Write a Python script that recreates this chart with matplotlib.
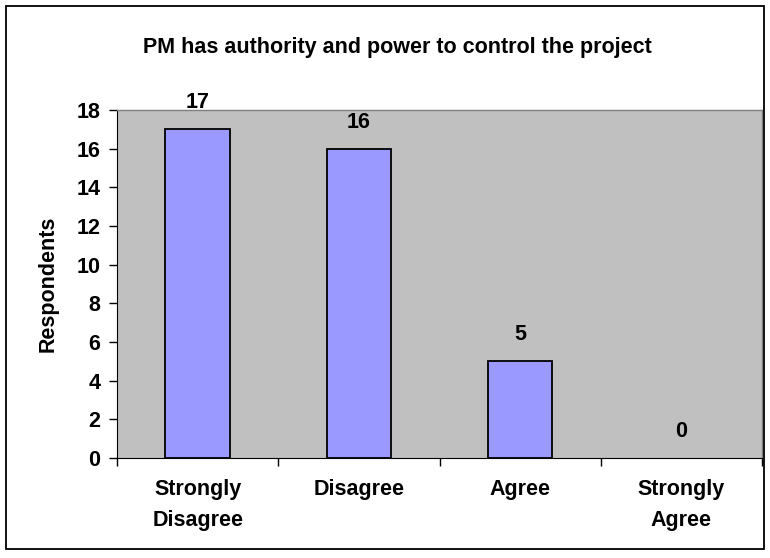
import matplotlib
matplotlib.use("Agg")
import matplotlib.pyplot as plt
from matplotlib.patches import Rectangle

categories = ["Strongly\nDisagree", "Disagree", "Agree", "Strongly\nAgree"]
respondents = [17, 16, 5, 0]
y_ticks = [0, 2, 4, 6, 8, 10, 12, 14, 16, 18]

plt.rcParams["font.family"] = ["Liberation Sans", "DejaVu Sans"]
plt.rcParams["font.weight"] = "bold"
FS = 15.5

W, H = 770, 558
fig = plt.figure(figsize=(W / 100, H / 100), dpi=100)
fig.patch.set_facecolor("white")

# outer chart border
fig.patches.append(Rectangle((6 / W, 1 - 549 / H), (764 - 6) / W, (549 - 6) / H,
                             transform=fig.transFigure, fill=False,
                             edgecolor="black", linewidth=1.3))

left, right, top, bottom = 117, 762, 110, 458
ax = fig.add_axes([left / W, 1 - bottom / H, (right - left) / W, (bottom - top) / H])
ax.set_facecolor("#C0C0C0")

x = list(range(len(categories)))
bars = ax.bar(x, respondents, width=0.4, color="#9999FF", edgecolor="black",
              linewidth=1.3, zorder=2)
for b, v in zip(bars, respondents):
    if v == 0:
        b.set_linewidth(0)

for xi, v in zip(x, respondents):
    ax.annotate(str(v), (xi, v), xytext=(0, 19), textcoords="offset points",
                ha="center", va="center", fontsize=FS, fontweight="bold")

ax.set_xlim(-0.5, len(categories) - 0.5)
ax.set_ylim(0, 18)
ax.set_yticks(y_ticks)
ax.set_yticklabels([str(t) for t in y_ticks], fontsize=FS, fontweight="bold")
ax.set_xticks([i - 0.5 for i in range(len(categories) + 1)])
ax.set_xticklabels([])
ax.set_xticks(x, minor=True)
ax.set_xticklabels(categories, minor=True, fontsize=FS, fontweight="bold", linespacing=1.65)
ax.tick_params(axis="x", which="minor", length=0, pad=15)
ax.tick_params(axis="x", which="major", length=6, direction="out", width=1)
ax.tick_params(axis="y", length=6, direction="out", width=1, pad=6)

for side in ["top", "right"]:
    ax.spines[side].set_color("#808080")
    ax.spines[side].set_linewidth(1)
ax.spines["left"].set_color("black")
ax.spines["bottom"].set_color("black")

ax.set_ylabel("Respondents", fontsize=FS, fontweight="bold", labelpad=13)

fig.text(397 / W, 1 - 48 / H, "PM has authority and power to control the project",
         ha="center", va="center", fontsize=FS, fontweight="bold")

fig.savefig("out.png", dpi=100)
